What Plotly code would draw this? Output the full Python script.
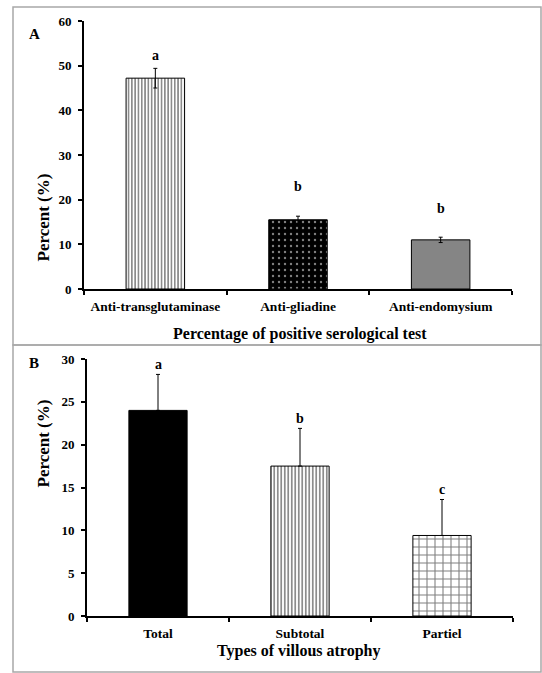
import plotly.graph_objects as go

# ---- data ----
cats_A = ["Anti-transglutaminase", "Anti-gliadine", "Anti-endomysium"]
vals_A = [47.2, 15.5, 11.0]
err_A = [2.2, 0.8, 0.6]
letters_A = ["a", "b", "b"]

cats_B = ["Total", "Subtotal", "Partiel"]
vals_B = [24.0, 17.5, 9.4]
err_B = [4.2, 4.4, 4.2]
letters_B = ["a", "b", "c"]

ticks_A = [0, 10, 20, 30, 40, 50, 60]
ticks_B = [0, 5, 10, 15, 20, 25, 30]

W, H = 542, 673
FONT = "Liberation Serif"

def px_x(p):
    return p / W

def px_y(p):
    return 1 - p / H

fig = go.Figure()

# Panel A bars
styles_A = [
    dict(color="white", pattern=dict(shape="|", fgcolor="black", bgcolor="white", size=3.3, solidity=0.45)),
    dict(color="black", pattern=dict(shape=".", fgcolor="white", bgcolor="black", size=6, solidity=0.12)),
    dict(color="#858585", pattern=dict(shape="")),
]
for c, v, e, s in zip(cats_A, vals_A, err_A, styles_A):
    fig.add_trace(go.Bar(
        x=[c], y=[v], xaxis="x", yaxis="y", width=0.41,
        marker=dict(color=s["color"], pattern=s["pattern"], line=dict(color="black", width=1)),
        error_y=dict(type="data", array=[e], visible=True, color="black", thickness=1, width=2),
        showlegend=False,
    ))

styles_B = [
    dict(color="black", pattern=dict(shape="")),
    dict(color="white", pattern=dict(shape="|", fgcolor="black", bgcolor="white", size=3.5, solidity=0.45)),
    dict(color="white", pattern=dict(shape="+", fgcolor="black", bgcolor="white", size=8, solidity=0.25)),
]
for c, v, e, s in zip(cats_B, vals_B, err_B, styles_B):
    fig.add_trace(go.Bar(
        x=[c], y=[v], xaxis="x2", yaxis="y2", width=0.41,
        marker=dict(color=s["color"], pattern=s["pattern"], line=dict(color="black", width=1)),
        error_y=dict(type="data", symmetric=False, array=[e], arrayminus=[0], visible=True,
                     color="black", thickness=1, width=2),
        showlegend=False,
    ))

annotations = []
letter_font = dict(family=FONT, size=14, color="black")
shift_A = [3, 20, 19]
for c, v, e, l, sh in zip(cats_A, vals_A, err_A, letters_A, shift_A):
    annotations.append(dict(x=c, y=v + e, xref="x", yref="y", text="<b>%s</b>" % l, showarrow=False,
                            yshift=sh, font=letter_font, yanchor="bottom"))
shift_B = [0, 0, 0]
for c, v, e, l, sh in zip(cats_B, vals_B, err_B, letters_B, shift_B):
    annotations.append(dict(x=c, y=v + e, xref="x2", yref="y2", text="<b>%s</b>" % l, showarrow=False,
                            yshift=sh, font=letter_font, yanchor="bottom"))

bold = dict(family=FONT, size=16, color="black")
ytitle = dict(family=FONT, size=17, color="black")
annotations += [
    dict(x=px_x(27), y=px_y(24), xref="paper", yref="paper", text="<b>A</b>", showarrow=False,
         font=dict(family=FONT, size=15, color="black")),
    dict(x=px_x(27), y=px_y(363), xref="paper", yref="paper", text="<b>B</b>", showarrow=False,
         font=dict(family=FONT, size=15, color="black")),
    dict(x=px_x(31), y=px_y(172), xref="paper", yref="paper", text="<b>Percent (%)</b>",
         showarrow=False, textangle=-90, font=ytitle),
    dict(x=px_x(31), y=px_y(490), xref="paper", yref="paper", text="<b>Percent (%)</b>",
         showarrow=False, textangle=-90, font=ytitle),
    dict(x=px_x(300), y=px_y(334), xref="paper", yref="paper",
         text="<b>Percentage of positive serological test</b>", showarrow=False, font=bold),
    dict(x=px_x(298), y=px_y(662), xref="paper", yref="paper",
         text="<b>Types of villous atrophy</b>", showarrow=False, font=bold),
]

shapes = [
    dict(type="rect", xref="paper", yref="paper", x0=px_x(13), x1=px_x(541), y0=px_y(345), y1=px_y(7),
         line=dict(color="#a8a8a8", width=1.5)),
    dict(type="rect", xref="paper", yref="paper", x0=px_x(13), x1=px_x(541), y0=px_y(672), y1=px_y(345),
         line=dict(color="#a8a8a8", width=1.5)),
]

tickfont = dict(family=FONT, size=13.5, color="black")
xcommon = dict(showline=True, linecolor="black", linewidth=2, ticks="outside", ticklen=4,
               tickcolor="black", tickwidth=1.5, tickson="boundaries", showgrid=False,
               tickfont=tickfont, fixedrange=True, automargin=False, ticklabelstandoff=4)
ycommon = dict(showline=True, linecolor="black", linewidth=2, ticks="outside", ticklen=4,
               tickcolor="black", tickwidth=1.5, showgrid=False, zeroline=False,
               tickfont=dict(family=FONT, size=13, color="black"), fixedrange=True, automargin=False,
               ticklabelstandoff=4)

fig.update_layout(
    width=W, height=H,
    margin=dict(l=0, r=0, t=0, b=0),
    paper_bgcolor="white", plot_bgcolor="white",
    xaxis=dict(domain=[px_x(84), px_x(512)], anchor="y", categoryorder="array",
               categoryarray=cats_A, range=[-0.5, 2.5],
               tickvals=cats_A, ticktext=["<b>%s</b>" % c for c in cats_A], **xcommon),
    yaxis=dict(domain=[px_y(289), px_y(21)], anchor="x", range=[0, 60], tickvals=ticks_A,
               ticktext=["<b>%d</b>" % t for t in ticks_A], **ycommon),
    xaxis2=dict(domain=[px_x(87), px_x(513)], anchor="y2", categoryorder="array",
                categoryarray=cats_B, range=[-0.5, 2.5],
                tickvals=cats_B, ticktext=["<b>%s</b>" % c for c in cats_B], **xcommon),
    yaxis2=dict(domain=[px_y(616), px_y(359)], anchor="x2", range=[0, 30], tickvals=ticks_B,
                ticktext=["<b>%d</b>" % t for t in ticks_B], **ycommon),
    annotations=annotations,
    shapes=shapes,
    bargap=0.5,
)

fig.write_html("out.html", config={"displayModeBar": False},
               post_script="document.body.style.margin='0';document.body.style.overflow='hidden';")
